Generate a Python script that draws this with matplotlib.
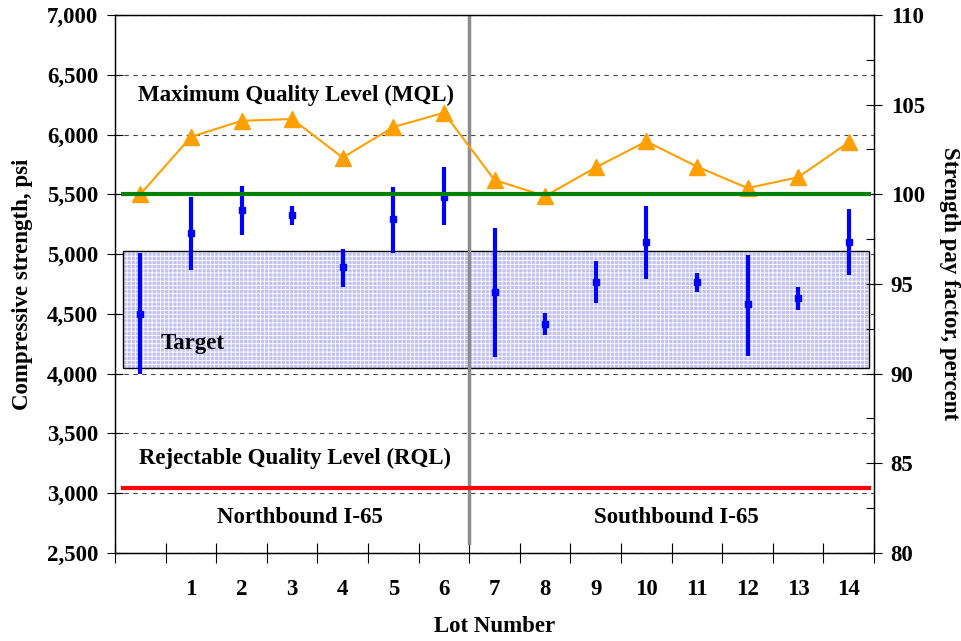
import numpy as np
import matplotlib.pyplot as plt
from matplotlib.patches import Rectangle
from matplotlib.ticker import MultipleLocator, FixedLocator

plt.rcParams['font.family'] = ['Liberation Serif', 'DejaVu Serif']
plt.rcParams['font.weight'] = 'bold'
plt.rcParams['hatch.linewidth'] = 0.6

# lot index 0..14 (0 is unlabeled)
lots = np.arange(15)
lot_labels = [''] + [str(i) for i in range(1, 15)]

# compressive strength, psi: mean and range
strength_mean = [4500, 5180, 5370, 5325, 4890, 5295, 5480,
                 4680, 4415, 4770, 5105, 4770, 4580, 4635, 5105]
strength_hi = [5010, 5480, 5570, 5400, 5040, 5565, 5725,
               5215, 4505, 4940, 5405, 4845, 4995, 4725, 5375]
strength_lo = [4000, 4870, 5160, 5245, 4725, 5010, 5245,
               4140, 4320, 4590, 4795, 4685, 4150, 4530, 4825]

# strength pay factor, percent
pay_factor = [100.0, 103.2, 104.1, 104.2, 102.05, 103.75, 104.55,
              100.8, 99.9, 101.5, 102.95, 101.55, 100.35, 100.95, 102.9]

MQL = 5500
RQL = 3040
target_lo, target_hi = 4050, 5025


def to_pay(s):
    return 80 + (s - 2500) / 4500 * 30


fig = plt.figure(figsize=(9.61, 6.41), dpi=100)
ax = fig.add_axes([115 / 961, 1 - 553 / 641, 759 / 961, 538 / 641])
ax2 = ax.twinx()

ax.set_xlim(-0.5, 14.5)
ax.set_ylim(2500, 7000)
ax2.set_ylim(80, 110)

# grid
ax.yaxis.set_major_locator(MultipleLocator(500))
ax.grid(axis='y', color='#444444', linestyle=(0, (4, 4)), lw=0.8)
ax.set_axisbelow(True)

# target band (dotted light blue fill)
ax.add_patch(Rectangle((-0.34, target_lo), 14.74, target_hi - target_lo,
                       facecolor='#c2c2f2', edgecolor='white', hatch='++++', lw=0, zorder=1))
ax.add_patch(Rectangle((-0.34, target_lo), 14.74, target_hi - target_lo,
                       facecolor='none', edgecolor='black', lw=1, zorder=1.1))

# divider between northbound and southbound
ax.axvline(6.5, ymin=10 / 538, ymax=1, color='#8c8c8c', lw=2.5, zorder=2)

# strength ranges
ax.vlines(lots, strength_lo, strength_hi, color='#0000ff', lw=3, zorder=3)
ax.plot(lots, strength_mean, 's', ms=5, color='#0000ff', zorder=4)

# pay factor
ax2.plot(lots, pay_factor, '-^', color='#ffa000', lw=1.5, ms=11, zorder=3)
ax2.plot([-0.34, 14.4], [to_pay(MQL)] * 2, color='#008000', lw=3, zorder=4)
ax2.plot([-0.34, 14.4], [to_pay(RQL)] * 2, color='#ff0000', lw=3, zorder=4)

# texts
fs = 16.5
ax.text(3.07, 6330, 'Maximum Quality Level (MQL)', ha='center', va='center', fontsize=fs, weight='bold')
ax.text(3.05, 3290, 'Rejectable Quality Level (RQL)', ha='center', va='center', fontsize=fs, weight='bold')
ax.text(1.04, 4255, 'Target', ha='center', va='center', fontsize=fs, weight='bold')
ax.text(3.15, 2800, 'Northbound I-65', ha='center', va='center', fontsize=fs, weight='bold')
ax.text(10.6, 2800, 'Southbound I-65', ha='center', va='center', fontsize=fs, weight='bold')

# x axis: ticks on boundaries, labels at centers
ax.xaxis.set_major_locator(FixedLocator(np.arange(-0.5, 15, 1)))
ax.xaxis.set_minor_locator(FixedLocator(lots))
ax.set_xticklabels([], minor=False)
ax.set_xticklabels(lot_labels, minor=True)
ax.tick_params(axis='x', which='major', direction='inout', length=14, width=0.8)
ax.tick_params(axis='x', which='minor', length=0, pad=19, labelsize=fs)

ax.set_yticks(np.arange(2500, 7001, 500))
ax.set_yticklabels([f'{v:,}' for v in range(2500, 7001, 500)])
ax.tick_params(axis='y', direction='inout', length=12, width=0.8, labelsize=fs, pad=6)

ax2.yaxis.set_major_locator(MultipleLocator(5))
ax2.yaxis.set_minor_locator(MultipleLocator(2.5))
ax2.tick_params(axis='y', which='major', direction='inout', length=12, width=0.8, labelsize=fs, pad=6)
ax2.tick_params(axis='y', which='minor', direction='in', length=6, width=0.8)

for a in (ax, ax2):
    for sp in a.spines.values():
        sp.set_linewidth(0.9)

ax.set_xlabel('Lot Number', fontsize=fs, weight='bold', va='center')
ax.xaxis.set_label_coords(0.5, (553 - 626) / 538)
ax.set_ylabel('Compressive strength, psi', fontsize=fs, weight='bold', va='center')
ax.yaxis.set_label_coords((23 - 115) / 759, 0.5)
ax2.set_ylabel('Strength pay factor, percent', fontsize=fs, weight='bold', rotation=270, va='center')
ax2.yaxis.set_label_coords((949 - 115) / 759, 0.5)

fig.savefig('out.png', dpi=100)
